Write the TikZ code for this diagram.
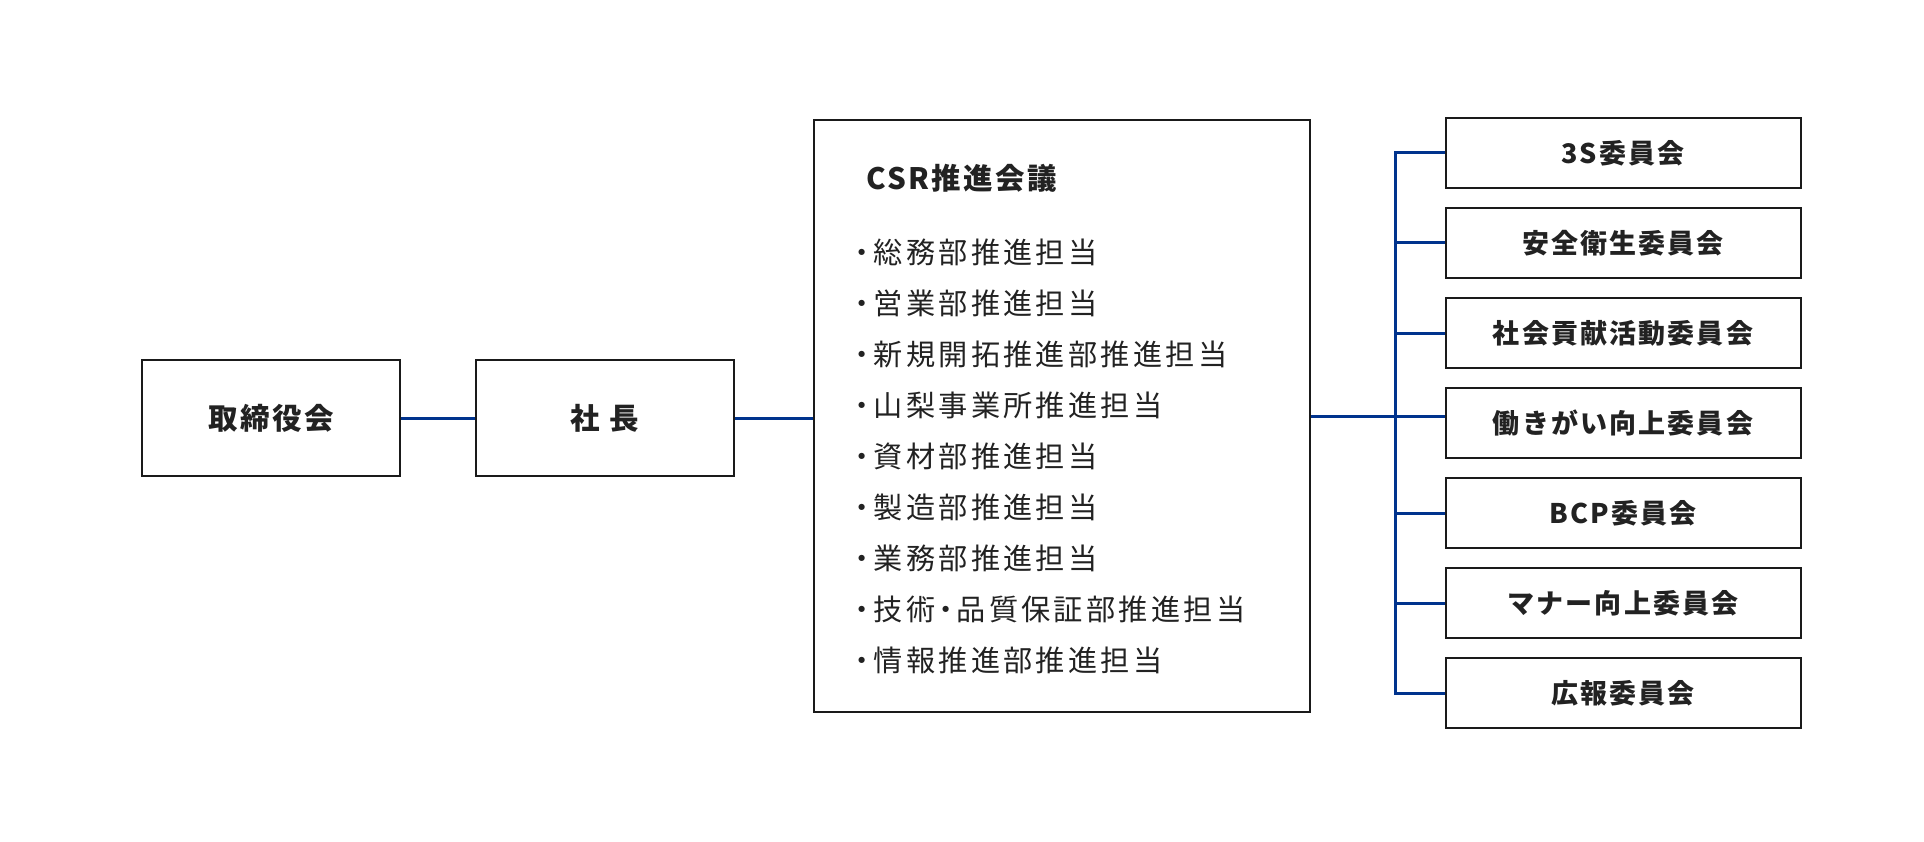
\documentclass[tikz,border=0pt]{standalone}
\usepackage{fontspec}
\setmainfont{Noto Sans CJK JP}
\newfontfamily\jp{Noto Sans CJK JP}[LetterSpace=8]
\newfontfamily\jpwide{Noto Sans CJK JP}[LetterSpace=11]
\definecolor{lineblue}{HTML}{00338D}
\definecolor{boxline}{HTML}{1A1A1A}
\definecolor{txtcol}{HTML}{222222}

\begin{document}
\begin{tikzpicture}[x=1pt, y=-1pt,
    box/.style={draw=boxline, line width=2pt, inner sep=0pt, text=txtcol},
    topbox/.style={box, minimum width=258pt, minimum height=116pt, font=\jp\bfseries\fontsize{29.5}{34}\selectfont},
    iinbox/.style={box, minimum width=355pt, minimum height=70pt, font=\jp\bfseries\fontsize{27}{32}\selectfont},
    item/.style={anchor=west, inner sep=0pt, text=txtcol, font=\jpwide\fontsize{29.2}{34}\selectfont},
    link/.style={draw=lineblue, line width=3pt}]
    \useasboundingbox (0,0) rectangle (1924,842);

    % 左側
    \node[topbox] (board) at (271, 418) {取締役会};
    \node[topbox] (pres) at (605, 418) {社 長};

    % CSR推進会議
    \node[box, minimum width=496pt, minimum height=592pt] (csr) at (1062, 416) {};
    \node[item, font=\jp\bfseries\fontsize{29.5}{34}\selectfont] (csrtitle) at (866, 178) {CSR推進会議};
    \node[item] (m1) at (847, 252) {・\kern-2.5pt 総務部推進担当};
    \node[item] (m2) at (847, 303) {・\kern-2.5pt 営業部推進担当};
    \node[item] (m3) at (847, 354) {・\kern-2.5pt 新規開拓推進部推進担当};
    \node[item] (m4) at (847, 405) {・\kern-2.5pt 山梨事業所推進担当};
    \node[item] (m5) at (847, 456) {・\kern-2.5pt 資材部推進担当};
    \node[item] (m6) at (847, 507) {・\kern-2.5pt 製造部推進担当};
    \node[item] (m7) at (847, 558) {・\kern-2.5pt 業務部推進担当};
    \node[item] (m8) at (847, 609) {・\kern-2.5pt 技術\kern-4pt ・\kern-4pt 品質保証部推進担当};
    \node[item] (m9) at (847, 660) {・\kern-2.5pt 情報推進部推進担当};

    % 委員会
    \node[iinbox] (c1) at (1623, 153) {3S委員会};
    \node[iinbox] (c2) at (1623, 243) {安全衛生委員会};
    \node[iinbox] (c3) at (1623, 333) {社会貢献活動委員会};
    \node[iinbox] (c4) at (1623, 423) {働きがい向上委員会};
    \node[iinbox] (c5) at (1623, 513) {BCP委員会};
    \node[iinbox] (c6) at (1623, 603) {マナー向上委員会};
    \node[iinbox] (c7) at (1623, 693) {広報委員会};

    % 線
    \draw[link] (board) -- (pres);
    \draw[link] (pres.east) -- (pres.east -| csr.west);
    \draw[link] (csr.east) -- (csr.east -| c4.west);
    \draw[link] (c1.west) -- ++(-49, 0) |- (c7.west);
    \draw[link] (c2.west) -- ++(-49, 0);
    \draw[link] (c3.west) -- ++(-49, 0);
    \draw[link] (c5.west) -- ++(-49, 0);
    \draw[link] (c6.west) -- ++(-49, 0);
\end{tikzpicture}
\end{document}
